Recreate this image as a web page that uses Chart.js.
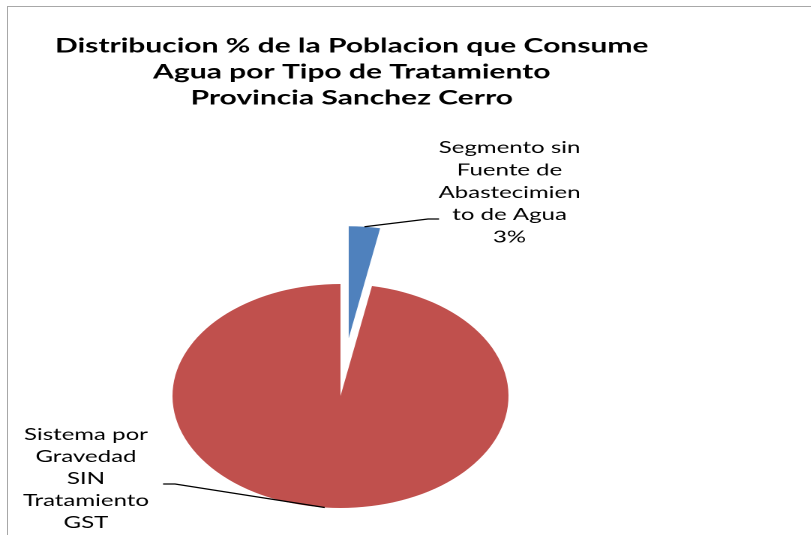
<!DOCTYPE html>
<html>
<head>
<meta charset="utf-8">
<script src="https://cdn.jsdelivr.net/npm/chart.js@4"></script>
<style>
    html, body { margin: 0; padding: 0; background: #fff; overflow: hidden; }
    #frame {
        position: absolute; left: 7px; top: 6px; width: 900px; height: 600px;
        border-top: 1.5px solid #a8a8a8; border-left: 1.5px solid #a8a8a8;
    }
    #wrap {
        position: absolute; left: 0; top: 0; width: 541px; height: 535px;
        transform: scaleX(1.5); transform-origin: 0 0;
    }
</style>
</head>
<body>
<div id="frame"></div>
<div id="wrap"><canvas id="pieChart" width="541" height="535"></canvas></div>
<script>
const titleLines = ['Distribucion % de la Poblacion que Consume', 'Agua por Tipo de Tratamiento', 'Provincia Sanchez Cerro'];
const categories = ['Segmento sin Fuente de Abastecimiento de Agua', 'Sistema por Gravedad SIN Tratamiento GST'];
const labelLines = [['Segmento sin', 'Fuente de', 'Abastecimien', 'to de Agua'], ['Sistema por', 'Gravedad', 'SIN', 'Tratamiento', 'GST']];
const values = [3, 97];
const colors = ['#4f81bd', '#c0504d'];

// pull slices out along their bisector (pixels, before the horizontal stretch)
const explodePlugin = {
    id: 'explode',
    afterDatasetUpdate(chart, args, opts) {
        const meta = chart.getDatasetMeta(args.index);
        meta.data.forEach((arc, i) => {
            const d = opts.distance[i] || 0;
            const mid = (arc.startAngle + arc.endAngle) / 2;
            arc.x += Math.cos(mid) * d;
            arc.y += Math.sin(mid) * d;
        });
    }
};

// outside labels with leader lines
const outsideLabels = {
    id: 'outsideLabels',
    afterDatasetsDraw(chart, args, opts) {
        const {ctx} = chart;
        const meta = chart.getDatasetMeta(0);
        const total = values.reduce((a, b) => a + b, 0);
        meta.data.forEach((arc, i) => {
            const o = opts.items[i];
            const mid = (arc.startAngle + arc.endAngle) / 2;
            const ax = arc.x + Math.cos(mid) * arc.outerRadius;
            const ay = arc.y + Math.sin(mid) * arc.outerRadius;

            ctx.save();
            ctx.strokeStyle = '#000';
            ctx.lineWidth = 1.2;
            ctx.beginPath();
            ctx.moveTo(ax, ay);
            ctx.lineTo(o.elbow[0], o.elbow[1]);
            ctx.lineTo(o.end[0], o.end[1]);
            ctx.stroke();

            const lines = labelLines[i].concat([Math.round(values[i] / total * 100) + '%']);
            ctx.fillStyle = '#000';
            ctx.font = '16px Lato';
            ctx.textAlign = 'center';
            ctx.textBaseline = 'middle';
            lines.forEach((t, k) => ctx.fillText(t, o.x, o.y + k * o.step));
            ctx.restore();
        });
    }
};

new Chart(document.getElementById('pieChart'), {
    type: 'pie',
    data: {
        labels: categories,
        datasets: [{
            data: values,
            backgroundColor: colors,
            borderWidth: 0
        }]
    },
    options: {
        responsive: false,
        devicePixelRatio: 2,
        animation: false,
        radius: 112,
        layout: { padding: { left: 0, right: 72, top: 0, bottom: 0 } },
        plugins: {
            // empty legend on the right, only used as a spacer so the pie sits a bit left of the title
            legend: {
                display: true,
                position: 'right',
                maxWidth: 15,
                labels: { filter: () => false }
            },
            tooltip: { enabled: false },
            title: {
                display: true,
                text: titleLines,
                color: '#000',
                font: { family: 'Lato', size: 20, weight: 'bold', lineHeight: 1.3 },
                padding: { top: 33, bottom: 146 }
            },
            explode: { distance: [58, 0] },
            outsideLabels: {
                items: [
                    { x: 339.7, y: 148, step: 22.3, elbow: [285.3, 219], end: [292.7, 219] },
                    { x: 57.3, y: 435, step: 22, elbow: [116.7, 484], end: [108.7, 484] }
                ]
            }
        }
    },
    plugins: [explodePlugin, outsideLabels]
});
</script>
</body>
</html>
